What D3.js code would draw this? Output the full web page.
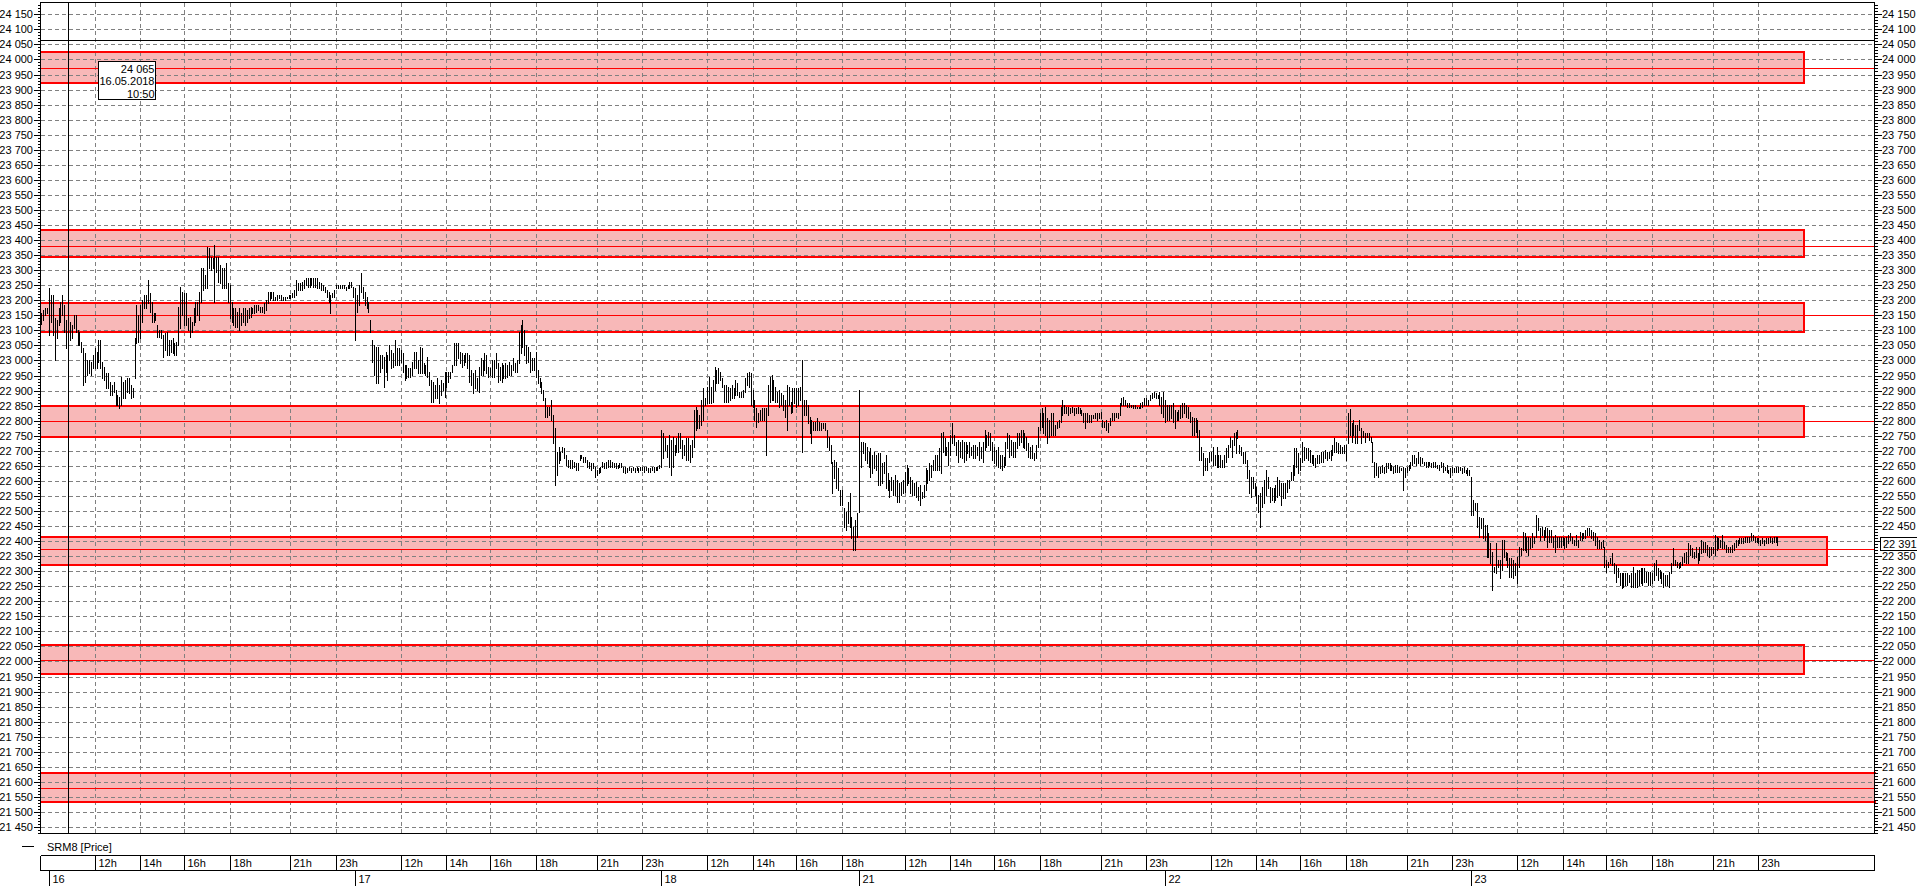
<!DOCTYPE html>
<html><head><meta charset="utf-8">
<script src="https://cdn.jsdelivr.net/npm/d3@7"></script>
<style>html,body{margin:0;padding:0;background:#fff;overflow:hidden}
svg{display:block;font-family:"Liberation Sans",Arial,sans-serif;font-size:11px}</style>
</head><body><svg id="c" width="1917" height="886"></svg>
<script>
// ---------- DATA ----------
const instrument = "SRM8 [Price]";
const dayLabels = ["16","17","18","21","22","23"];
const dayStartBars = [0,161,322,426,587,748];
const hourLabels = ["12h","14h","16h","18h","21h","23h"];
const hourOffsets = [24,48,71,95,127,151];
const hoursPerDay = [6,6,4,6,6,6];

// 5-minute bars: highs and lows, by day (tail of 15th first)
const high15 = [23157,23168,23173,23173];
const low15  = [23121,23134,23151,23157];
const high16 = [23242,23217,23217,23140,23134,23173,23195,23217,23184,23134,23129,
23129,23118,23151,23151,23101,23096,23062,23040,23024,23002,23002,22996,23018,23040,23029,23068,23068,22996,22979,22957,
22957,22930,22918,22930,22902,22885,22880,22946,22930,22935,22941,22941,22918,22907,23073,23184,23151,23184,23201,23217,
23217,23267,23223,23195,23157,23157,23118,23101,23101,23085,23090,23096,23068,23068,23073,23057,23062,23179,23245,23229,23223,
23223,23140,23145,23129,23173,23195,23195,23229,23306,23306,23284,23378,23372,23345,23339,23384,23345,23345,23317,23306,
23306,23323,23256,23251,23195,23173,23173,23162,23173,23157,23173,23173,23168,23173,23179,23173,23184,23184,23184,23179,
23179,23190,23201,23229,23229,23229,23229,23212,23217,23217,23217,23212,23212,23212,23217,23217,23223,23234,23267,23256,
23256,23262,23267,23273,23273,23273,23273,23273,23273,23273,23262,23256,23251,23245,23234,23229,23217,23223,23234,23251,23251,
23251,23251,23251,23245,23251,23262,23262,23245];
const low16 = [23085,23129,23085,23002,23073,23118,23129,23151,23096,23040,23068,
23068,23073,23107,23096,23051,23051,23029,22918,22930,22952,22957,22952,22974,22974,22974,22996,22974,22941,22935,22907,
22907,22885,22885,22896,22852,22852,22841,22852,22874,22874,22896,22891,22874,22880,22941,23057,23062,23073,23129,23173,
23173,23190,23162,23129,23129,23134,23079,23079,23073,23013,23035,23018,23018,23029,23024,23018,23018,23051,23107,23151,23118,
23118,23101,23079,23096,23118,23129,23151,23134,23195,23234,23240,23240,23306,23300,23306,23195,23295,23262,23256,23240,
23240,23240,23195,23140,23129,23118,23112,23112,23101,23118,23129,23118,23129,23140,23145,23157,23157,23162,23168,23162,
23162,23157,23168,23190,23201,23206,23201,23201,23201,23206,23201,23201,23201,23206,23206,23209,23212,23212,23217,23234,
23234,23234,23240,23251,23245,23245,23251,23245,23245,23240,23240,23234,23234,23229,23212,23195,23157,23212,23212,23240,23240,
23240,23240,23240,23234,23240,23240,23245,23212];
const high17 = [23240,23217,23251,23289,23245,23229,23212,23195,23134,23068,23051,23046,
23046,23018,23018,23013,23029,23018,23051,23035,23024,23068,23040,23040,23035,23024,22985,22985,22974,22974,22996,23029,
23029,23002,23046,23040,22990,22985,23013,22963,22935,22930,22918,22941,22918,22935,22924,22963,22963,22963,22963,22985,23057,
23057,23057,23029,23024,23018,23024,23024,23018,22968,22957,22968,22941,22979,
23007,23001,23024,23018,22979,22974,23001,23001,23024,22990,22979,22990,22985,22990,22985,22996,22985,23007,22990,23001,
23096,23118,23134,23101,23051,23046,23029,23007,23007,23029,22968,22941,22930,22902,22874,22847,22847,22869,22819,22774,
22697,22714,22697,22714,22708,22686,22669,22669,22669,22664,22658,22658,22686,22686,22680,22680,22669,22664,22658,22658,
22647,22636,22642,22647,22664,22658,22664,22669,22669,22664,22658,22658,22653,22658,22658,22647,22647,22642,22647,22642,
22647,22642,22647,22642,22647,22647,22647,22647,22642,22642,22647,22647,22647,22647,22653];
const low17 = [23068,23162,23184,23229,23206,23184,23173,23162,23096,22996,22952,22924,
22924,22963,22974,22913,22963,22935,23002,22974,22979,22985,22985,22985,22996,22963,22935,22941,22946,22946,22952,22974,
22974,22957,22957,22957,22957,22952,22946,22918,22863,22863,22874,22874,22858,22885,22902,22880,22913,22930,22941,22963,22985,
22985,23007,22990,22979,22985,22996,22974,22930,22918,22891,22907,22902,22896,
22952,22952,22968,22957,22946,22952,22946,22946,22974,22930,22935,22930,22941,22941,22946,22952,22952,22968,22963,22963,
22990,23024,23046,23018,22990,22996,22963,22968,22968,22946,22924,22913,22891,22869,22813,22813,22819,22802,22725,22586,
22619,22658,22669,22697,22675,22653,22647,22642,22642,22647,22636,22636,22669,22675,22664,22664,22647,22642,22636,22642,
22614,22619,22625,22631,22647,22642,22642,22647,22647,22647,22647,22642,22642,22647,22647,22631,22625,22631,22636,22631,
22636,22631,22636,22631,22636,22636,22631,22636,22631,22631,22636,22631,22636,22636,22642];
const high18 = [22769,22758,22741,22719,22752,22736,22747,22719,22741,22758,22758,22736,22719,22741,22741,22719,22736,22835,22847,22835,
22819,22869,22907,22874,22913,22946,22913,22935,22979,22968,22974,22963,22941,22918,22918,22913,22907,22918,22907,22935,
22924,22896,22896,22902,22941,22957,22963,22957,22902,22869,22841,22824,22835,22841,22841,22841,22918,22946,22952,22935,
22913,22896,22902,22891,22885,22869,22918,22913,22863,22907,22907,22907,22907,22913,23001,22869,22869,22852,22813,22802,
22797,22797,22808,22797,22791,22791,22791,22769,22747,22719,22664,22669,22664,22642,22570,22570,22509,22498,22531,22559,22481,22448,22470,22492];
const low18 = [22647,22675,22703,22680,22647,22619,22647,22686,22697,22697,22708,22675,22686,22669,22669,22664,22680,22714,22769,22774,
22774,22786,22802,22852,22858,22858,22858,22863,22902,22924,22924,22935,22913,22863,22863,22863,22869,22874,22874,22885,
22885,22880,22880,22880,22896,22918,22913,22852,22847,22802,22780,22797,22802,22802,22802,22686,22819,22863,22869,22869,
22863,22863,22847,22852,22835,22813,22769,22852,22824,22830,22858,22847,22852,22869,22697,22819,22819,22791,22758,22725,
22769,22769,22769,22769,22769,22774,22769,22714,22703,22658,22559,22608,22575,22570,22520,22520,22448,22437,22459,22448,22409,22370,22370,22415];
const high21 = [22902,22730,22730,22725,22714,22697,22708,22686,22697,22686,22691,22691,22658,22664,22686,22625,22603,22614,22603,22619,22603,22592,22597,22603,22631,22653,22642,
22614,22603,22592,22597,22581,22586,22564,22586,22642,22636,22658,22653,22669,22686,22686,22708,22758,22763,22741,22714,
22730,22752,22791,22752,22730,22736,22730,22736,22730,22730,22719,22730,22714,22719,22719,22714,22730,22714,22730,22769,
22752,22763,22758,22730,22714,22702,22714,22686,22686,22680,22730,22758,22752,22736,22730,22730,22758,22758,22769,22769,
22758,22747,22725,22714,22719,22691,22719,22780,22824,22841,22824,22846,22808,22802,22824,22824,22785,22797,22802,22846,
22869,22852,22846,22846,22841,22846,22841,22841,22846,22841,22835,22824,22824,22824,22819,22819,22819,22824,22824,22824,
22830,22802,22797,22802,22791,22808,22824,22824,22824,22824,22857,22874,22880,22869,22857,22857,22852,22852,22852,22846,
22846,22857,22863,22874,22874,22869,22885,22891,22896,22891,22885,22896,22880,22896];
const low21 = [22498,22647,22691,22669,22658,22647,22614,22625,22642,22636,22586,22586,22592,22625,22575,22570,22548,22570,22553,22553,22531,22531,22553,22559,22564,22586,22592,
22558,22553,22553,22547,22536,22520,22542,22547,22570,22592,22603,22614,22636,22636,22636,22636,22625,22697,22686,22686,
22653,22686,22725,22719,22686,22664,22680,22675,22664,22669,22691,22680,22686,22675,22675,22686,22669,22675,22664,22702,
22714,22719,22702,22669,22658,22653,22647,22642,22636,22647,22653,22708,22680,22686,22680,22680,22708,22719,22730,22714,
22708,22702,22680,22675,22675,22669,22675,22714,22769,22780,22758,22752,22725,22747,22752,22752,22752,22774,22780,22797,
22819,22824,22824,22819,22824,22830,22819,22824,22824,22824,22819,22797,22774,22797,22797,22797,22808,22808,22802,22808,
22808,22780,22780,22769,22763,22785,22802,22802,22813,22808,22819,22852,22852,22852,22846,22846,22846,22841,22841,22841,
22841,22841,22846,22852,22852,22852,22869,22874,22880,22874,22874,22852,22824,22813];
const high22 = [22869,22852,22852,22852,22857,22835,
22830,22835,22852,22857,22857,22852,22846,22830,22813,22808,22808,22802,22769,22714,22691,22675,22675,22697,22697,22714,
22686,22714,22686,22686,22669,22686,22708,22719,22747,22736,22758,22763,22769,22719,22714,22697,22697,22669,22636,22614,
22614,22592,22581,22553,22558,22581,22603,22636,22614,22581,22575,22575,22586,22614,22603,22592,22592,22592,22603,22603,
22630,22653,22708,22708,22691,22675,22730,22714,22708,22708,22702,22686,22686,22675,22686,22686,22697,22697,22702,22697,
22697,22702,22719,22741,22730,22725,22719,22714,22719,22719,22824,22838,22791,22802,22786,22786,22802,22775,22764,22758,
22758,22758,22747,22730,22664,22658,22647,22647,22653,22647,22658,22658,22658,22653,22647,22653,22653,22647,22642,22647,
22642,22647,22653,22664,22686,22686,22675,22697,22680,22675,22664,22664,22664,22664,22658,22664,22664,22653,22653,22664,
22658,22647,22653,22636,22642,22647,22642,22647,22647,22647,22642,22647,22636,22642,22636];
const low22 = [22797,22802,22802,22808,22797,22774,
22802,22802,22808,22813,22824,22813,22808,22797,22752,22752,22763,22747,22669,22669,22619,22636,22636,22664,22669,22653,
22653,22647,22647,22647,22647,22647,22664,22680,22714,22680,22719,22691,22741,22691,22686,22658,22658,22608,22558,22547,
22575,22553,22525,22498,22448,22514,22525,22553,22575,22531,22536,22531,22536,22547,22553,22520,22542,22542,22564,22575,
22603,22603,22619,22647,22625,22636,22664,22669,22675,22669,22664,22658,22653,22647,22658,22658,22664,22664,22675,22669,
22675,22669,22686,22697,22697,22691,22691,22691,22691,22669,22725,22752,22730,22752,22725,22725,22769,22725,22747,22730,
22747,22736,22730,22664,22614,22619,22614,22625,22631,22625,22631,22642,22636,22636,22625,22631,22631,22631,22636,22570,
22614,22631,22636,22642,22653,22658,22653,22658,22653,22658,22653,22647,22647,22653,22647,22647,22647,22642,22636,22647,
22631,22636,22631,22625,22614,22631,22631,22631,22631,22636,22625,22631,22625,22619,22619];
const high23 = [22614,22536,22525,22525,22481,22476,22476,22453,22453,22426,22393,22365,22315,22393,22337,22337,22404,22404,22365,22359,22343,
22343,22337,22326,22348,22381,22376,22431,22426,22415,22415,22409,22426,22415,22487,22476,22442,22448,22437,22448,22442,22437,
22437,22415,22420,22415,22415,22415,22415,22409,22415,22420,22426,22415,22404,22420,22404,22431,22426,22426,22437,22442,
22442,22437,22431,22426,22415,22404,22398,22404,22381,22337,22332,22343,22359,22326,22320,22309,22293,22293,22293,22293,
22293,22287,22293,22315,22293,22304,22304,22309,22309,22309,22298,22298,22298,22293,22326,22337,22309,22304,22298,22293,22287,
22287,22298,22326,22376,22337,22332,22326,22332,22348,22359,22365,22393,22387,22376,22365,22381,22359,22381,22404,22398,
22398,22387,22381,22381,22381,22420,22415,22409,22404,22420,22398,22387,22381,22381,22387,22393,22404,22404,22409,22409,
22409,22415,22415,22415,22426,22420,22415,22409,22409,22404,22409,22404,22409,22409,22415,22409,22415,22415,22415];
const low23 = [22487,22487,22503,22448,22415,22442,22409,22404,22348,22348,22326,22237,22298,22293,22315,22276,22304,22348,22337,22315,22282,
22282,22276,22287,22260,22315,22354,22370,22370,22365,22354,22376,22381,22393,22415,22437,22404,22420,22404,22415,22381,22398,
22398,22381,22365,22381,22381,22381,22387,22376,22381,22393,22404,22393,22387,22387,22381,22404,22404,22409,22409,22420,
22420,22409,22404,22387,22376,22376,22376,22381,22315,22298,22315,22326,22320,22293,22265,22282,22254,22243,22249,22254,
22254,22265,22249,22249,22249,22249,22254,22260,22254,22265,22265,22254,22254,22260,22271,22287,22271,22276,22260,22249,22254,
22254,22249,22293,22320,22320,22315,22309,22315,22320,22332,22326,22326,22354,22348,22343,22348,22326,22337,22359,22365,
22365,22354,22348,22354,22359,22354,22370,22376,22381,22376,22376,22365,22365,22365,22365,22370,22381,22387,22393,22393,
22393,22398,22398,22398,22404,22404,22398,22398,22393,22387,22393,22387,22393,22393,22398,22393,22398,22398,22387];
const lastPrice = 22391;

// support / resistance zones
const zoneLow  = [23923,23344,23096,22747,22319,21957,21533];
const zoneHigh = [24024,23433,23192,22849,22415,22055,21629];
const zoneMid  = [23971,23381,23150,22799,22372,22004,21580];
const zoneEndBar = [923,923,923,923,935,923,961];

// crosshair
const cursorBar = 10, cursorPrice = 24065, cursorDate = "16.05.2018", cursorTime = "10:50";

// y axis
const yMin = 21450, yMax = 24150, yMajor = 50, yMinor = 10;

// ---------- DRAW ----------
const svg = d3.select("#c");
const L = 40.5, R = 1874.5, T = 2.5, B = 833.5;
const y = d3.scaleLinear().domain([yMin, yMax]).range([827, 14.3]);
const x = d3.scaleLinear().domain([0, 748]).range([49, 1471.3]);
const px = v => Math.round(x(v)) + 0.5;
const py = v => Math.round(y(v)) + 0.5;
const fmt = d3.formatLocale({decimal:".", thousands:" ", grouping:[3], currency:["",""]}).format(",d");

const highs = [high15,high16,high17,high18,high21,high22,high23];
const lows  = [low15,low16,low17,low18,low21,low22,low23];
const starts = [-high15.length].concat(dayStartBars);
const bars = [];
highs.forEach((hArr,k)=>hArr.forEach((h,j)=>bars.push({i:starts[k]+j,h:h,l:lows[k][j]})));

svg.append("rect").attr("width",1917).attr("height",886).attr("fill","#fff");

// zone fills
const zones = zoneLow.map((lo,k)=>({lo:lo,hi:zoneHigh[k],mid:zoneMid[k],end:zoneEndBar[k]}));
const zx = d => Math.min(Math.round(x(d.end)), Math.round(R));
svg.append("g").selectAll("rect").data(zones).join("rect")
  .attr("x",L).attr("y",d=>Math.round(y(d.hi))).attr("width",d=>zx(d)-L)
  .attr("height",d=>Math.round(y(d.lo))-Math.round(y(d.hi))).attr("fill","#f8b8b8");

// grid
const ticks = d3.range(yMin, yMax+1, yMajor);
const hourTicks = [];
dayStartBars.forEach((s,k)=>{for(let h=0;h<hoursPerDay[k];h++)hourTicks.push({i:s+hourOffsets[h],label:hourLabels[h]});});
const grid = svg.append("g").attr("stroke","#808080").attr("stroke-dasharray","4,3").attr("shape-rendering","crispEdges");
grid.selectAll(".h").data(ticks).join("line").attr("x1",L).attr("x2",R).attr("y1",py).attr("y2",py);
grid.selectAll(".v").data(hourTicks).join("line").attr("x1",d=>px(d.i)).attr("x2",d=>px(d.i)).attr("y1",T).attr("y2",B);

// zone borders (2px) and middle lines (1px)
const zg = svg.append("g").attr("fill","#ff0000");
zg.selectAll(".t").data(zones).join("rect").attr("x",L).attr("width",d=>zx(d)-L+1)
  .attr("y",d=>Math.round(y(d.hi))-1).attr("height",2);
zg.selectAll(".b").data(zones).join("rect").attr("x",L).attr("width",d=>zx(d)-L+1)
  .attr("y",d=>Math.round(y(d.lo))-1).attr("height",2);
zg.selectAll(".r").data(zones.filter(d=>x(d.end)<R)).join("rect").attr("x",d=>zx(d)-1).attr("width",2)
  .attr("y",d=>Math.round(y(d.hi))-1).attr("height",d=>Math.round(y(d.lo))-Math.round(y(d.hi))+2);
zg.selectAll(".m").data(zones).join("rect").attr("x",L).attr("width",R-L)
  .attr("y",d=>Math.round(y(d.mid))).attr("height",1);

// price bars
svg.append("g").attr("stroke","#000").attr("shape-rendering","crispEdges")
  .selectAll("line").data(bars).join("line")
  .attr("x1",d=>px(d.i)).attr("x2",d=>px(d.i))
  .attr("y1",d=>Math.round(y(d.h))).attr("y2",d=>Math.round(y(d.l))+1);

// crosshair
const ch = svg.append("g").attr("stroke","#000").attr("shape-rendering","crispEdges");
ch.append("line").attr("x1",px(cursorBar)).attr("x2",px(cursorBar)).attr("y1",T).attr("y2",B);
ch.append("line").attr("x1",L).attr("x2",R).attr("y1",py(cursorPrice)).attr("y2",py(cursorPrice));

// frame
svg.append("rect").attr("x",L).attr("y",T).attr("width",R-L).attr("height",B-T)
  .attr("fill","none").attr("stroke","#000").attr("shape-rendering","crispEdges");

// y axis ticks
const minor = d3.range(21430, 24190, yMinor);
const ax = svg.append("g").attr("stroke","#000").attr("shape-rendering","crispEdges");
ax.selectAll(".lt").data(minor).join("line").attr("x1",d=>d%yMajor===0?L-7:L-3).attr("x2",L).attr("y1",py).attr("y2",py);
ax.selectAll(".rt").data(minor).join("line").attr("x1",R).attr("x2",d=>d%yMajor===0?R+7:R+3).attr("y1",py).attr("y2",py);
svg.append("g").attr("text-anchor","end").selectAll("text").data(ticks).join("text")
  .attr("x",33).attr("y",d=>y(d)+4).text(fmt);
svg.append("g").selectAll("text").data(ticks).join("text")
  .attr("x",1882).attr("y",d=>y(d)+4).text(fmt);

// last price box on right axis
svg.append("rect").attr("x",1880.5).attr("y",Math.round(y(lastPrice))-6.5).attr("width",37).attr("height",13)
  .attr("fill","#fff").attr("stroke","#000").attr("shape-rendering","crispEdges");
svg.append("text").attr("x",1883).attr("y",y(lastPrice)+4).text(fmt(lastPrice));

// crosshair info box
const bx = px(cursorBar)+30, by = py(cursorPrice)+21;
svg.append("rect").attr("x",bx).attr("y",by).attr("width",57).attr("height",38)
  .attr("fill","#fff").attr("stroke","#000").attr("shape-rendering","crispEdges");
svg.append("g").attr("text-anchor","end").selectAll("text")
  .data([fmt(cursorPrice),cursorDate,cursorTime]).join("text")
  .attr("x",bx+56).attr("y",(d,k)=>by+11+k*12.5).text(d=>d);

// legend
svg.append("line").attr("x1",22).attr("x2",34).attr("y1",846.5).attr("y2",846.5).attr("stroke","#000");
svg.append("text").attr("x",47).attr("y",850.5).text(instrument);

// time axis
const ta = svg.append("g").attr("stroke","#000").attr("shape-rendering","crispEdges");
ta.append("line").attr("x1",L).attr("x2",R).attr("y1",855.5).attr("y2",855.5);
ta.append("line").attr("x1",L).attr("x2",R).attr("y1",870.5).attr("y2",870.5);
ta.append("line").attr("x1",L).attr("x2",L).attr("y1",855.5).attr("y2",870.5);
ta.append("line").attr("x1",R).attr("x2",R).attr("y1",855.5).attr("y2",870.5);
ta.selectAll(".hs").data(hourTicks).join("line").attr("x1",d=>px(d.i)).attr("x2",d=>px(d.i)).attr("y1",855.5).attr("y2",870.5);
ta.selectAll(".ds").data(dayStartBars).join("line").attr("x1",px).attr("x2",px).attr("y1",870.5).attr("y2",886);
svg.append("g").selectAll("text").data(hourTicks).join("text").attr("x",d=>px(d.i)+3).attr("y",867).text(d=>d.label);
svg.append("g").selectAll("text").data(dayStartBars).join("text").attr("x",d=>px(d)+3).attr("y",882.5).text((d,k)=>dayLabels[k]);
</script></body></html>
